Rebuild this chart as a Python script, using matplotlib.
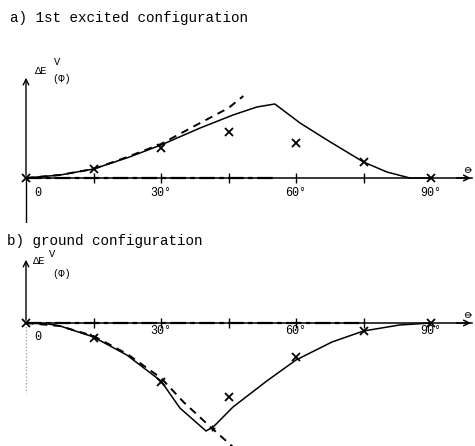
import matplotlib
matplotlib.use('Agg')
import matplotlib.pyplot as plt

# angle phi in degrees, energy change in arbitrary units
# a) 1st excited configuration
exc_phi = [0, 7.6, 15, 23, 30, 38.7, 46, 51.3, 55.3, 60.9, 66.9, 75, 80.2, 85.3, 90]
exc_curve = [0, 3, 9, 21, 33, 50, 63, 71, 74, 55, 38, 16, 6, 0, 0]
exc_dash_phi = [0, 7.5, 15, 22.5, 30, 38.7, 45, 48.3]
exc_dash = [0, 3, 9, 21, 34, 55, 70, 82]
exc_pts_phi = [0, 15, 30, 45, 60, 75, 90]
exc_pts = [0, 9, 30, 46, 35, 16, 0]

# b) ground configuration
gnd_phi = [0, 5, 7.6, 15, 22.4, 30, 34.2, 40, 41.6, 46, 53.5, 60, 68, 75, 83, 90]
gnd_curve = [0, -1, -3, -14, -32, -58, -85, -108, -104, -84, -58, -37, -19, -8, -2, 0]
gnd_dash_phi = [0, 7.5, 15, 22.5, 30, 35, 41, 47]
gnd_dash = [0, -3, -13, -31, -55, -79, -104, -128]
gnd_pts_phi = [0, 15, 30, 45, 60, 75, 90]
gnd_pts = [0, -15, -59, -74, -34, -8, 0]

tick_phi = [15, 30, 45, 60, 75]
tick_labels = ['0', '30°', '60°', '90°']
tick_label_phi = [2.7, 30, 60, 90]

mono = 'Liberation Mono'

fig = plt.figure(figsize=(4.75, 4.46), dpi=100)

fig.text(10 / 475, 1 - 18 / 446, 'a) 1st excited configuration', family=mono,
         fontsize=10.3, va='center', ha='left')
fig.text(7 / 475, 1 - 241 / 446, 'b) ground configuration', family=mono,
         fontsize=10.3, va='center', ha='left')

xlim = (-26 / 4.5, 449 / 4.5)


def draw_axes(ax, y_top, y_bottom, dash_end, dotted_below):
    ax.set_xlim(*xlim)
    ax.axis('off')
    # horizontal axis with arrow
    ax.plot([0, 99], [0, 0], color='black', lw=1.1)
    ax.plot([0, dash_end], [0, 0], color='black', lw=1.6,
            linestyle=(0, (7, 2, 2, 2)))
    ax.annotate('', xy=(xlim[1] - 0.3, 0), xytext=(95, 0),
                arrowprops=dict(arrowstyle='->', lw=1.1, color='black'),
                annotation_clip=False)
    # vertical axis
    ax.annotate('', xy=(0, y_top), xytext=(0, 0),
                arrowprops=dict(arrowstyle='->', lw=1.0, color='black'))
    if dotted_below:
        ax.plot([0, 0], [0, y_bottom], color='#999999', lw=0.9, linestyle=':')
    else:
        ax.plot([0, 0], [0, y_bottom], color='black', lw=1.0)
    ax.plot(tick_phi, [0] * len(tick_phi), linestyle='none', marker='|',
            markersize=7, mew=1.0, color='black')
    ax.text(98.7, 9, 'Φ', family=mono, fontsize=7, rotation=90,
            ha='center', va='center')


# top panel
ax1 = fig.add_axes([0, 0.5, 1, 0.5])
ax1.set_ylim(-45, 178)
draw_axes(ax1, 103, -45, 55, False)
ax1.plot(exc_phi, exc_curve, color='black', lw=1.1)
ax1.plot(exc_dash_phi, exc_dash, color='black', lw=1.4, linestyle=(0, (4, 3)))
ax1.plot(exc_pts_phi, exc_pts, linestyle='none', marker='x', markersize=6,
         mew=1.3, color='black')
for lab, p in zip(tick_labels, tick_label_phi):
    ax1.text(p, -15, lab, family=mono, fontsize=8.5, ha='center', va='center')
ax1.text(3.3, 107, 'ΔE', family=mono, fontsize=7.5, ha='center', va='center')
ax1.text(6.9, 116, 'V', family=mono, fontsize=7.5, ha='center', va='center')
ax1.text(8, 99, '(Φ)', family=mono, fontsize=7.5, ha='center', va='center')

# bottom panel
ax2 = fig.add_axes([0, 0, 1, 0.5])
ax2.set_ylim(-123, 100)
draw_axes(ax2, 66, -70, 75, True)
ax2.plot(gnd_phi, gnd_curve, color='black', lw=1.1)
ax2.plot(gnd_dash_phi, gnd_dash, color='black', lw=1.4, linestyle=(0, (4, 3)))
ax2.plot(gnd_pts_phi, gnd_pts, linestyle='none', marker='x', markersize=6,
         mew=1.3, color='black')
ax2.plot([41.3], [-105], linestyle='none', marker='+', markersize=5,
         mew=1.0, color='black')
gnd_label_y = [-14, -8, -8, -8]
for lab, p, yy in zip(tick_labels, tick_label_phi, gnd_label_y):
    ax2.text(p, yy, lab, family=mono, fontsize=8.5, ha='center', va='center')
ax2.text(2.9, 62, 'ΔE', family=mono, fontsize=7.5, ha='center', va='center')
ax2.text(5.8, 69, 'V', family=mono, fontsize=7.5, ha='center', va='center')
ax2.text(8, 49, '(Φ)', family=mono, fontsize=7.5, ha='center', va='center')

plt.savefig('out.png', dpi=100)
